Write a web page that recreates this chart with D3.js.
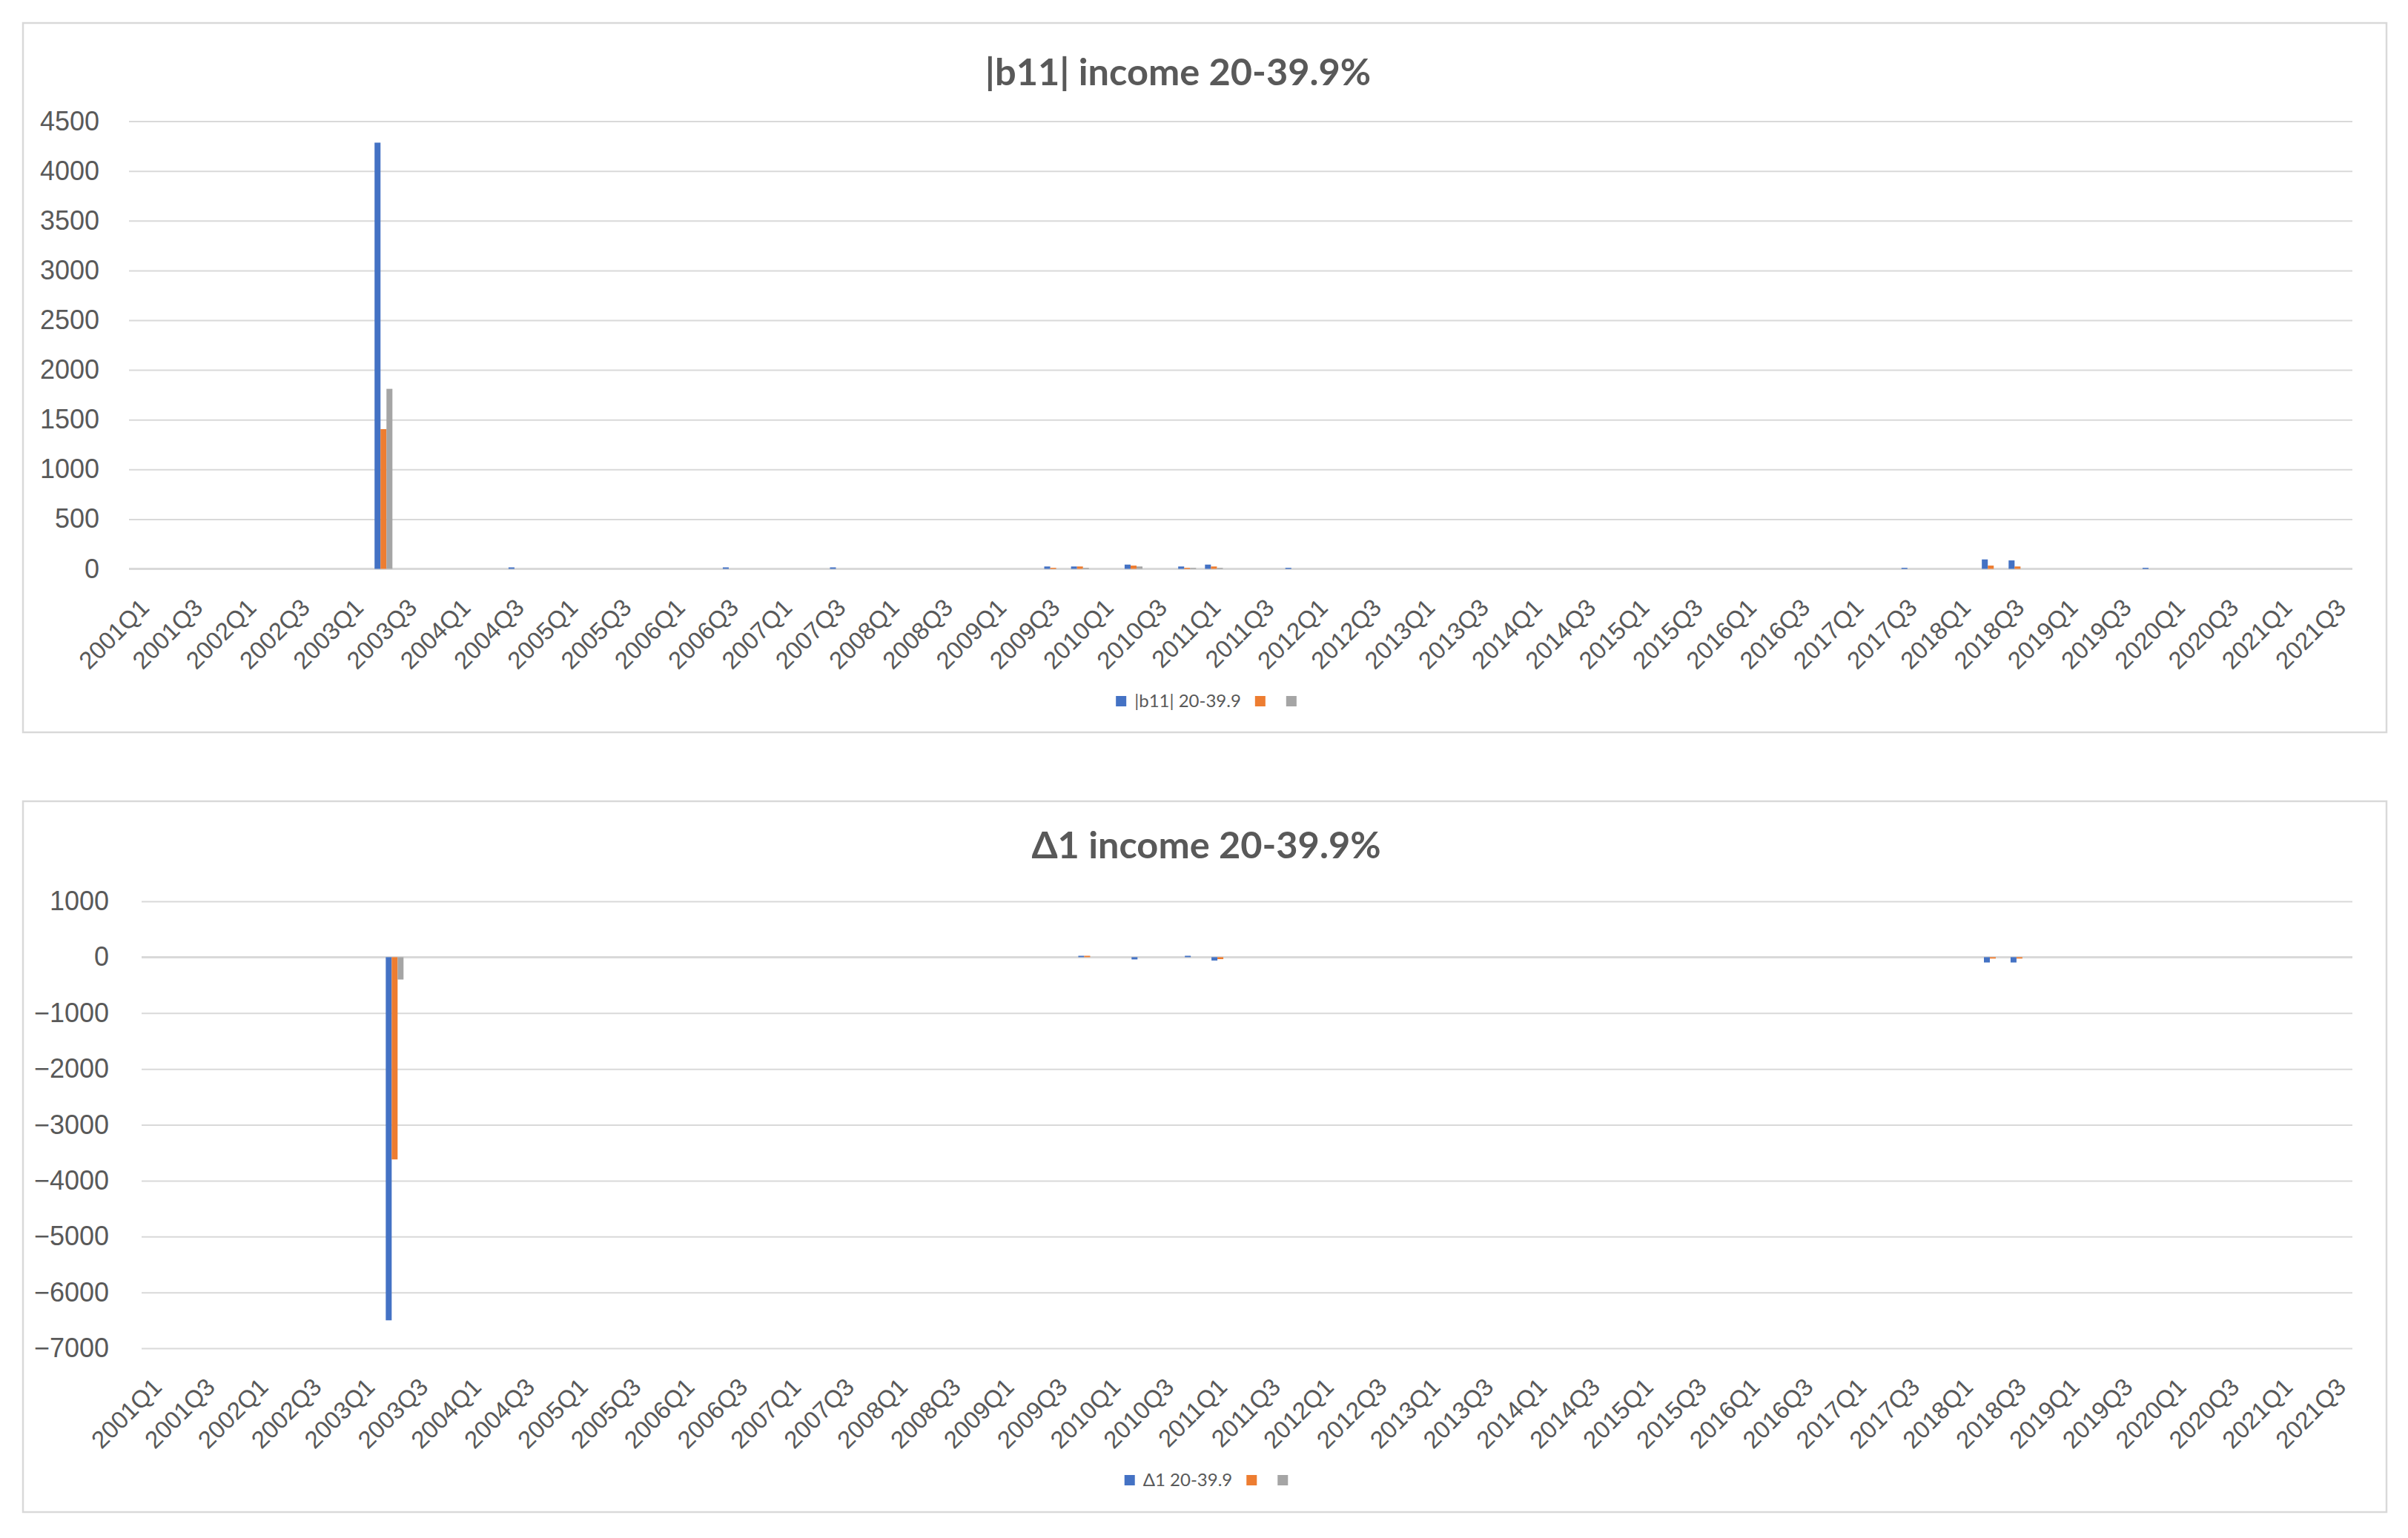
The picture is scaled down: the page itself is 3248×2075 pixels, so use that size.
<!DOCTYPE html>
<html>
<head>
<meta charset="utf-8">
<script src="https://d3js.org/d3.v7.min.js"></script>
<style>
  html, body { margin: 0; padding: 0; background: #fff; }
  svg { display: block; font-family: Lato, "Open Sans", sans-serif; }
</style>
</head>
<body>
<svg id="chart" width="3248" height="2075"></svg>
<script>
// categories: 2001Q1 .. 2021Q3
var quarters = [
  "2001Q1","2001Q2","2001Q3","2001Q4", "2002Q1","2002Q2","2002Q3","2002Q4",
  "2003Q1","2003Q2","2003Q3","2003Q4", "2004Q1","2004Q2","2004Q3","2004Q4",
  "2005Q1","2005Q2","2005Q3","2005Q4", "2006Q1","2006Q2","2006Q3","2006Q4",
  "2007Q1","2007Q2","2007Q3","2007Q4", "2008Q1","2008Q2","2008Q3","2008Q4",
  "2009Q1","2009Q2","2009Q3","2009Q4", "2010Q1","2010Q2","2010Q3","2010Q4",
  "2011Q1","2011Q2","2011Q3","2011Q4", "2012Q1","2012Q2","2012Q3","2012Q4",
  "2013Q1","2013Q2","2013Q3","2013Q4", "2014Q1","2014Q2","2014Q3","2014Q4",
  "2015Q1","2015Q2","2015Q3","2015Q4", "2016Q1","2016Q2","2016Q3","2016Q4",
  "2017Q1","2017Q2","2017Q3","2017Q4", "2018Q1","2018Q2","2018Q3","2018Q4",
  "2019Q1","2019Q2","2019Q3","2019Q4", "2020Q1","2020Q2","2020Q3","2020Q4",
  "2021Q1","2021Q2","2021Q3"
];

// non-zero quarters only, everything else is 0
var b11Blue = [["2003Q2", 4285], ["2004Q3", 15], ["2006Q3", 15], ["2007Q3", 15],
  ["2009Q3", 24], ["2009Q4", 24], ["2010Q2", 43], ["2010Q4", 24], ["2011Q1", 43],
  ["2011Q4", 11], ["2017Q3", 11], ["2018Q2", 95], ["2018Q3", 85], ["2019Q4", 11]];
var b11Orange = [["2003Q2", 1405], ["2009Q3", 11], ["2009Q4", 24], ["2010Q2", 33],
  ["2010Q4", 11], ["2011Q1", 24], ["2018Q2", 33], ["2018Q3", 24]];
var b11Gray = [["2003Q2", 1810], ["2009Q4", 11], ["2010Q2", 24], ["2010Q4", 11], ["2011Q1", 11]];
var b11Ticks = [0, 500, 1000, 1500, 2000, 2500, 3000, 3500, 4000, 4500];

var d1Blue = [["2003Q2", -6500], ["2009Q4", 25], ["2010Q2", -40], ["2010Q4", 25],
  ["2011Q1", -60], ["2018Q2", -95], ["2018Q3", -95]];
var d1Orange = [["2003Q2", -3620], ["2009Q4", 25], ["2011Q1", -35], ["2018Q2", -25], ["2018Q3", -25]];
var d1Gray = [["2003Q2", -400]];
var d1Ticks = [-7000, -6000, -5000, -4000, -3000, -2000, -1000, 0, 1000];

var colors = ["#4472c4", "#ed7d31", "#a5a5a5"];
var textColor = "#595959";
var gridColor = "#d9d9d9";

var charts = [
  {
    title: "|b11| income 20-39.9%", legend: ["|b11| 20-39.9", "", ""],
    series: [b11Blue, b11Orange, b11Gray], ticks: b11Ticks,
    box: { x: 31, y: 31, w: 3188, h: 957 },
    plot: { l: 174, r: 3173, t: 163.6, b: 767.5 }, yPad: 40,
    titleX: 1589, titleY: 115, legendY: 946
  },
  {
    title: "Δ1 income 20-39.9%", legend: ["Δ1 20-39.9", "", ""],
    series: [d1Blue, d1Orange, d1Gray], ticks: d1Ticks,
    box: { x: 31, y: 1081, w: 3188, h: 959 },
    plot: { l: 191, r: 3173, t: 1216, b: 1819 }, yPad: 44,
    titleX: 1627, titleY: 1158, legendY: 1997
  }
];

var svg = d3.select("#chart");
svg.append("rect").attr("width", 3248).attr("height", 2075).attr("fill", "#fff");

function toFull(pairs) {
  var m = new Map(pairs);
  return quarters.map(function(q) { return { q: q, v: m.get(q) || 0 }; });
}

function drawChart(cfg) {
  var g = svg.append("g");
  var p = cfg.plot;

  g.append("rect")
    .attr("x", cfg.box.x).attr("y", cfg.box.y)
    .attr("width", cfg.box.w).attr("height", cfg.box.h)
    .attr("fill", "#fff").attr("stroke", gridColor).attr("stroke-width", 2.5);

  g.append("text")
    .attr("x", cfg.titleX).attr("y", cfg.titleY)
    .attr("text-anchor", "middle")
    .attr("fill", textColor)
    .style("font-size", "50.5px").style("font-weight", "bold")
    .text(cfg.title);

  var ext = d3.extent(cfg.ticks);
  var y = d3.scaleLinear().domain(ext).range([p.b, p.t]);

  // excel style clusters: gap width 150%
  var x = d3.scaleBand().domain(quarters).range([p.l, p.r])
    .paddingInner(1 / 3).paddingOuter(1 / 6);
  var xs = d3.scaleBand().domain([0, 1, 2]).range([0, x.bandwidth()]);

  var yAxis = g.append("g").attr("transform", "translate(" + p.l + ",0)")
    .call(d3.axisLeft(y).tickValues(cfg.ticks).tickSize(-(p.r - p.l)).tickPadding(cfg.yPad).tickFormat(d3.format("d")));
  yAxis.select(".domain").remove();
  yAxis.selectAll(".tick line").attr("stroke", gridColor).attr("stroke-width", 2);
  yAxis.selectAll(".tick text").attr("fill", textColor).style("font-size", "36px");

  g.append("line")
    .attr("x1", p.l).attr("x2", p.r)
    .attr("y1", y(0)).attr("y2", y(0))
    .attr("stroke", gridColor).attr("stroke-width", 3);

  var xAxis = g.append("g").attr("transform", "translate(0," + p.b + ")")
    .call(d3.axisBottom(x).tickValues(quarters.filter(function(d, i) { return i % 2 === 0; })).tickSize(0));
  xAxis.select(".domain").remove();
  xAxis.selectAll(".tick text")
    .attr("x", 0).attr("y", 0).attr("dy", "0.35em")
    .attr("transform", "translate(3,46) rotate(-45)")
    .attr("text-anchor", "end")
    .attr("fill", textColor)
    .style("font-size", "33px");

  cfg.series.forEach(function(s, k) {
    g.append("g").selectAll("rect")
      .data(toFull(s).filter(function(d) { return d.v !== 0; }))
      .join("rect")
      .attr("x", function(d) { return x(d.q) + xs(k); })
      .attr("width", xs.bandwidth())
      .attr("y", function(d) { return Math.min(y(d.v), y(0)); })
      .attr("height", function(d) { return Math.abs(y(d.v) - y(0)); })
      .attr("fill", colors[k]);
  });

  // legend, centred in the box
  var lg = g.append("g");
  var cx = 0;
  cfg.legend.forEach(function(name, k) {
    lg.append("rect").attr("x", cx).attr("y", -7).attr("width", 14).attr("height", 14).attr("fill", colors[k]);
    cx += 14;
    if (name) {
      var t = lg.append("text").attr("x", cx + 11).attr("y", 0).attr("dy", "0.35em")
        .attr("fill", textColor).style("font-size", "24px").text(name);
      cx += 11 + t.node().getComputedTextLength() + 19;
    } else {
      cx += 28;
    }
  });
  cx -= 28;
  lg.attr("transform", "translate(" + (cfg.box.x + cfg.box.w / 2 + 2 - cx / 2) + "," + cfg.legendY + ")");
}

charts.forEach(drawChart);
</script>
</body>
</html>
